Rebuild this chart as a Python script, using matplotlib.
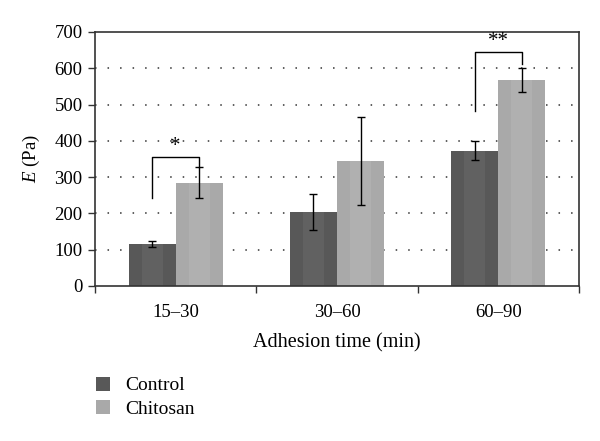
import matplotlib
matplotlib.use("Agg")
import matplotlib.pyplot as plt
import numpy as np

categories = ["15–30", "30–60", "60–90"]
series_names = ["Control", "Chitosan"]
control_vals = [115, 204, 373]
control_err = [8, 50, 27]
chitosan_vals = [285, 345, 567]
chitosan_err = [43, 122, 33]
yticks = [0, 100, 200, 300, 400, 500, 600, 700]

# significance brackets: group index, left-bottom, top, right-bottom, label
sig_groups = [0, 2]
sig_left = [242, 482]
sig_top = [355, 645]
sig_right = [328, 611]
sig_labels = ["*", "**"]

plt.rcParams['font.family'] = ['Liberation Serif', 'DejaVu Serif']
plt.rcParams['mathtext.fontset'] = 'custom'
plt.rcParams['mathtext.it'] = 'Liberation Serif:italic'
plt.rcParams['mathtext.rm'] = 'Liberation Serif'

fig = plt.figure(figsize=(6, 4.41), dpi=100)
ax = fig.add_axes([95/600, 1-286/441, (579-95)/600, (286-32)/441])

x = np.arange(len(categories))
w = 0.292
c_ctrl = '#585858'
c_chit = '#a9a9a9'
ax.bar(x - w/2, control_vals, w, color=c_ctrl, zorder=2, label=series_names[0])
ax.bar(x + w/2, chitosan_vals, w, color=c_chit, zorder=2, label=series_names[1])
# subtle inner shading
ax.bar(x - w/2, control_vals, w*0.45, color='#616161', zorder=2.1)
ax.bar(x + w/2, chitosan_vals, w*0.45, color='#b0b0b0', zorder=2.1)

ax.errorbar(x - w/2, control_vals, yerr=control_err, fmt='none', ecolor='black',
            elinewidth=1, capsize=3, capthick=1, zorder=3)
ax.errorbar(x + w/2, chitosan_vals, yerr=chitosan_err, fmt='none', ecolor='black',
            elinewidth=1, capsize=3, capthick=1, zorder=3)

for g, yl, yt, yr, lab in zip(sig_groups, sig_left, sig_top, sig_right, sig_labels):
    xl = g - w/2
    xr = g + w/2
    ax.plot([xl, xl, xr, xr], [yl, yt, yt, yr], color='black', lw=1, zorder=4)
    ax.text((xl + xr)/2, yt + 2, lab, ha='center', va='bottom', fontsize=15)

ax.set_xlim(-0.5, 2.5)
ax.set_ylim(0, 700)
ax.set_yticks(yticks)
for yv in yticks[1:-1]:
    ax.axhline(yv, color='#333333', lw=1.1, linestyle=(0, (1, 7.2)), zorder=1)

ax.set_xticks(x)
ax.set_xticklabels(categories)
ax.tick_params(axis='x', which='major', length=0, pad=13, labelsize=13.5)
ax.set_xticks([-0.5, 0.5, 1.5, 2.5], minor=True)
ax.tick_params(axis='x', which='minor', length=5, width=1, direction='out', color='#333333')
ax.tick_params(axis='y', length=5, width=1, direction='out', labelsize=13.5, color='#333333', pad=4)

for s in ax.spines.values():
    s.set_color('#333333')
    s.set_linewidth(1.2)

ax.set_ylabel(r'$E$ (Pa)', fontsize=13.5, labelpad=9)
ax.set_xlabel('Adhesion time (min)', fontsize=14.5, labelpad=9)

handles, labels = ax.get_legend_handles_labels()
fig.legend(handles[:2], labels[:2], loc='upper left', bbox_to_anchor=(78/600, 1-359/441),
           frameon=False, fontsize=14, handlelength=0.75, handleheight=0.75,
           handletextpad=0.8, labelspacing=0.3)

fig.savefig('out.png', dpi=100)
